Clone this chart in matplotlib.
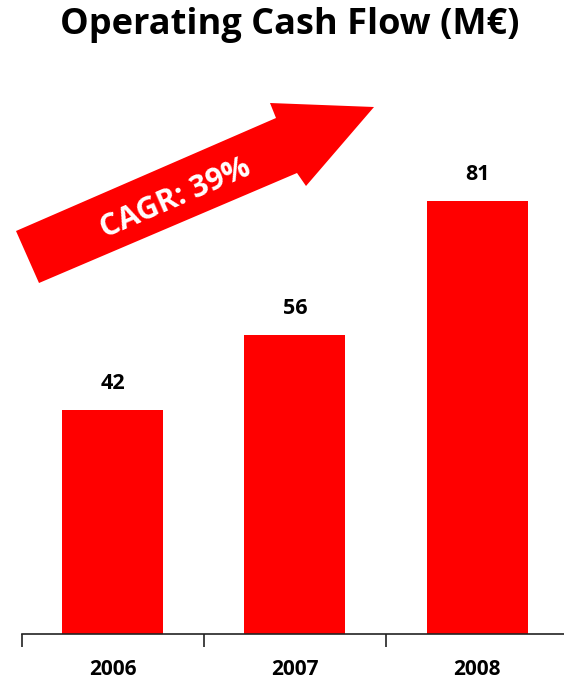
import matplotlib.pyplot as plt
from matplotlib.patches import Polygon

years = ["2006", "2007", "2008"]
cash_flow = [42, 56, 81]
cagr_label = "CAGR: 39%"

RED = "#FF0000"
W, H = 564, 681

plt.rcParams["font.family"] = ["Open Sans", "DejaVu Sans"]

fig = plt.figure(figsize=(W / 100, H / 100), dpi=100)
ax = fig.add_axes([21.6 / W, (H - 634) / H, (W - 21.6) / W, 534 / H])

x = list(range(len(years)))
ax.bar(x, cash_flow, width=0.555, color=RED)
for xi, v in zip(x, cash_flow):
    ax.text(xi, v + 3.0, str(v), ha="center", va="bottom",
            fontsize=15.5, fontweight="bold")

ax.set_xlim(-0.5, 2.477)
ax.set_ylim(0, 100)
ax.set_xticks([-0.5, 0.5, 1.5])
ax.set_xticklabels([])
ax.set_xticks(x, minor=True)
ax.set_xticklabels(years, minor=True, fontsize=15, fontweight="bold")
ax.tick_params(axis="x", which="major", direction="out", length=9, width=1.2, color="#222222")
ax.tick_params(axis="x", which="minor", length=0, pad=18)
ax.set_yticks([])
for s in ["top", "right", "left"]:
    ax.spines[s].set_visible(False)
ax.spines["bottom"].set_linewidth(1.2)
ax.spines["bottom"].set_color("#222222")

# growth arrow (figure pixel coords, origin top-left)
pts = [(16, 231), (276, 118), (270, 103), (374, 107), (306, 186), (297, 173), (39, 283)]
arrow = Polygon([(px / W, 1 - py / H) for px, py in pts], closed=True,
                transform=fig.transFigure, facecolor=RED, edgecolor="none")
fig.patches.append(arrow)
fig.text(176 / W, 1 - 199 / H, cagr_label, color="white", fontsize=22,
         fontweight="bold", rotation=23.5, ha="center", va="center",
         rotation_mode="anchor")

fig.text(290 / W, 1 - 25 / H, "Operating Cash Flow (M€)", ha="center", va="center",
         fontsize=26, fontweight="bold")

fig.savefig("out.png", dpi=100)
